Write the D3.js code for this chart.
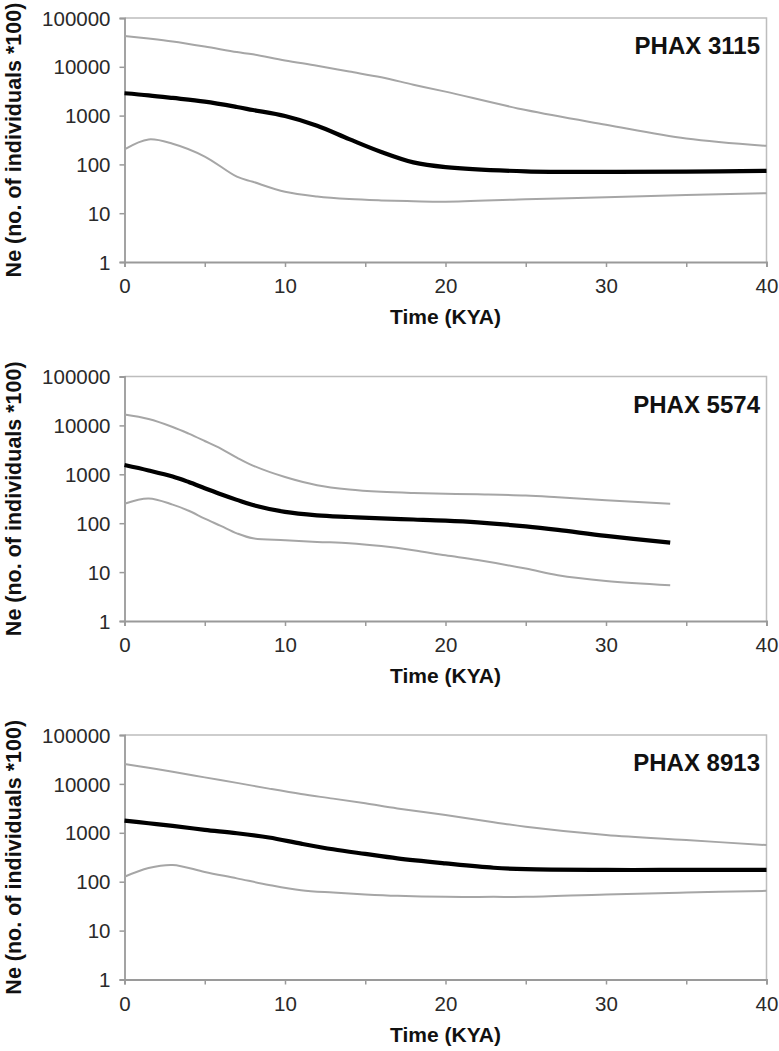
<!DOCTYPE html>
<html><head><meta charset="utf-8">
<script src="https://cdn.jsdelivr.net/npm/d3@7"></script>
<style>body{margin:0;background:#fff}svg{display:block}</style>
</head><body>
<script>
// ---- data ----
const xTicks = [0, 10, 20, 30, 40];
const yTicks = [1, 10, 100, 1000, 10000, 100000];
const yLabel = "Ne (no. of individuals *100)";
const xLabel = "Time (KYA)";

const names = ["PHAX 3115", "PHAX 5574", "PHAX 8913"];

const time3115 = [0, 1.5, 3, 5, 7, 8, 10, 12, 14, 16, 18, 20, 25, 30, 35, 40];
const upper3115 = [43000, 38000, 33000, 26000, 20000, 18000, 13500, 10500, 8000, 6100, 4300, 3100, 1300, 650, 340, 240];
const median3115 = [2870, 2600, 2300, 1930, 1500, 1300, 980, 620, 330, 180, 110, 88, 72, 70, 71, 74];
const lower3115 = [204, 325, 265, 145, 56, 44, 27.5, 22, 19.5, 18.3, 17.6, 17.2, 19.3, 21.3, 23.6, 25.7];

const time5574 = [0, 1.5, 3, 4, 5, 6, 7, 8, 10, 12, 14, 16, 18, 20, 22, 25, 27, 30, 34];
const upper5574 = [16700, 13500, 9300, 6800, 4800, 3350, 2200, 1510, 880, 600, 490, 440, 415, 400, 390, 370, 340, 295, 250];
const median5574 = [1550, 1200, 900, 695, 520, 390, 300, 235, 170, 145, 134, 125, 119, 113, 104, 86, 73, 55, 40];
const lower5574 = [250, 320, 240, 180, 124, 88, 62, 49, 45, 41.5, 39, 34, 28, 22, 17.6, 11.8, 8.6, 6.6, 5.4];

const time8913 = [0, 1.5, 3, 5, 7, 9, 11, 13, 15, 17, 20, 23, 25, 30, 35, 40];
const upper8913 = [25500, 21500, 17800, 13600, 10500, 8000, 6200, 5000, 4000, 3150, 2300, 1650, 1330, 900, 710, 560];
const median8913 = [1780, 1570, 1380, 1150, 980, 800, 600, 460, 370, 300, 237, 193, 180, 174, 174, 174];
const lower8913 = [126, 190, 220, 158, 117, 86, 67, 60, 55, 51.5, 49, 49, 49, 55, 60, 65];

const panels = [
  {name: names[0], t: time3115, up: upper3115, med: median3115, lo: lower3115},
  {name: names[1], t: time5574, up: upper5574, med: median5574, lo: lower5574},
  {name: names[2], t: time8913, up: upper8913, med: median8913, lo: lower8913}
];

// ---- layout ----
const W = 779, H = 1051;
const left = 124.5, right = 766.5;
const tops = [18, 376.5, 735];
const bottoms = [262, 621, 979.5];

const svg = d3.select("body").append("svg").attr("width", W).attr("height", H)
  .style("font-family", "'Liberation Sans', Arial, sans-serif");

panels.forEach((p, i) => {
  const x = d3.scaleLinear().domain([0, 40]).range([left, right]);
  const y = d3.scaleLog().domain([1, 100000]).range([bottoms[i], tops[i]]);
  const g = svg.append("g");

  // top/right border
  g.append("path")
    .attr("d", `M${left},${tops[i]}H${right}V${bottoms[i]}`)
    .attr("fill", "none").attr("stroke", "#bdbdbd").attr("stroke-width", 1.5);

  // x axis
  const xa = g.append("g").attr("transform", `translate(0,${bottoms[i]})`)
    .call(d3.axisBottom(x).tickValues(d3.range(0, 41, 5)).tickSize(5)
      .tickFormat(d => xTicks.includes(d) ? d : ""));
  xa.select(".domain").attr("stroke", "#9a9a9a").attr("stroke-width", 1.8);
  xa.selectAll(".tick line").attr("stroke", "#9a9a9a").attr("stroke-width", 1.5);
  xa.selectAll(".tick text").attr("font-size", 20.5).attr("fill", "#2a2a2a")
    .attr("dy", null).attr("y", 31);

  // y axis
  const ya = g.append("g").attr("transform", `translate(${left},0)`)
    .call(d3.axisLeft(y).tickValues(yTicks).tickSize(5).tickFormat(d3.format("d")));
  ya.select(".domain").attr("stroke", "#9a9a9a").attr("stroke-width", 1.8);
  ya.selectAll(".tick line").attr("stroke", "#9a9a9a").attr("stroke-width", 1.5);
  ya.selectAll(".tick text").attr("font-size", 20.5).attr("fill", "#2a2a2a")
    .attr("x", -14).attr("dy", "0.35em");

  // lines
  const line = (vals) => d3.line()
    .x((d, k) => x(p.t[k])).y(d => y(d))
    .curve(d3.curveCatmullRom.alpha(0.5))(vals);
  g.append("path").attr("d", line(p.up)).attr("fill", "none")
    .attr("stroke", "#a6a6a6").attr("stroke-width", 2);
  g.append("path").attr("d", line(p.lo)).attr("fill", "none")
    .attr("stroke", "#a6a6a6").attr("stroke-width", 2);
  g.append("path").attr("d", line(p.med)).attr("fill", "none")
    .attr("stroke", "#000").attr("stroke-width", 4.2);

  // panel name
  g.append("text").attr("x", 760).attr("y", tops[i] + 36)
    .attr("text-anchor", "end").attr("font-weight", "bold").attr("font-size", 24)
    .attr("fill", "#111").text(p.name);

  // x label
  g.append("text").attr("x", (left + right) / 2).attr("y", bottoms[i] + 62)
    .attr("text-anchor", "middle").attr("font-weight", "bold").attr("font-size", 21)
    .attr("fill", "#111").text(xLabel);

  // y label
  const cy = (tops[i] + bottoms[i]) / 2;
  g.append("text").attr("transform", `translate(21,${cy}) rotate(-90)`)
    .attr("text-anchor", "middle").attr("font-weight", "bold").attr("font-size", 21.5)
    .attr("fill", "#111").text(yLabel);
});
</script>
</body></html>
